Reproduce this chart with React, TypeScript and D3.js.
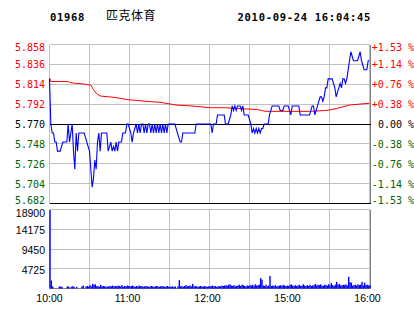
import React from 'react';
import * as d3 from 'd3';

const stockCode = '01968';
const stockName = '匹克体育';
const timestamp = '2010-09-24 16:04:45';
const prevClose = 5.77;

const priceTicks = [5.858, 5.836, 5.814, 5.792, 5.770, 5.748, 5.726, 5.704, 5.682];
const pctLabels = ['+1.53 %', '+1.14 %', '+0.76 %', '+0.38 %', '0.00 %', '-0.38 %', '-0.76 %', '-1.14 %', '-1.53 %'];
const volTicks = [18900, 14175, 9450, 4725, 0];
const timeTickMinutes = [0, 60, 120, 180, 240];
const timeTickLabels = ['10:00', '11:00', '12:00', '15:00', '16:00'];

// price per minute (0 = 10:00, 240 = 16:00, lunch break skipped)
const prices = [
  5.82, 5.77, 5.76, 5.76, 5.75, 5.75, 5.74, 5.74, 5.74, 5.745,
  5.75, 5.75, 5.75, 5.75, 5.77, 5.75, 5.76, 5.77, 5.74, 5.72,
  5.76, 5.74, 5.76, 5.76, 5.76, 5.76, 5.76, 5.755, 5.75, 5.745,
  5.74, 5.72, 5.70, 5.71, 5.73, 5.72, 5.75, 5.76, 5.74, 5.76,
  5.76, 5.76, 5.76, 5.76, 5.74, 5.745, 5.75, 5.74, 5.745, 5.74,
  5.75, 5.74, 5.75, 5.75, 5.75, 5.76, 5.76, 5.76, 5.77, 5.77,
  5.765, 5.76, 5.75, 5.76, 5.765, 5.77, 5.76, 5.77, 5.76, 5.77,
  5.77, 5.76, 5.77, 5.76, 5.77, 5.77, 5.76, 5.77, 5.76, 5.77,
  5.76, 5.77, 5.76, 5.77, 5.76, 5.77, 5.76, 5.77, 5.76, 5.77,
  5.77, 5.77, 5.77, 5.77, 5.77, 5.765, 5.76, 5.755, 5.75, 5.75,
  5.76, 5.76, 5.76, 5.76, 5.76, 5.76, 5.76, 5.76, 5.76, 5.76,
  5.77, 5.77, 5.77, 5.77, 5.77, 5.77, 5.77, 5.77, 5.77, 5.77,
  5.77, 5.77, 5.76, 5.77, 5.77, 5.77, 5.78, 5.78, 5.78, 5.78,
  5.78, 5.78, 5.77, 5.77, 5.77, 5.775, 5.78, 5.79, 5.785, 5.79,
  5.785, 5.79, 5.79, 5.79, 5.785, 5.79, 5.78, 5.78, 5.78, 5.78,
  5.775, 5.77, 5.76, 5.765, 5.76, 5.765, 5.76, 5.765, 5.76, 5.765,
  5.765, 5.77, 5.77, 5.77, 5.77, 5.78, 5.785, 5.79, 5.79, 5.79,
  5.79, 5.79, 5.79, 5.785, 5.785, 5.785, 5.79, 5.79, 5.79, 5.79,
  5.785, 5.78, 5.79, 5.79, 5.79, 5.79, 5.79, 5.79, 5.78, 5.78,
  5.78, 5.78, 5.78, 5.78, 5.78, 5.78, 5.785, 5.79, 5.79, 5.78,
  5.785, 5.79, 5.795, 5.80, 5.80, 5.795, 5.80, 5.81, 5.81, 5.82,
  5.82, 5.82, 5.82, 5.815, 5.81, 5.80, 5.805, 5.81, 5.815, 5.81,
  5.82, 5.82, 5.815, 5.82, 5.83, 5.84, 5.85, 5.845, 5.84, 5.84,
  5.84, 5.84, 5.845, 5.85, 5.84, 5.835, 5.83, 5.83, 5.83, 5.84,
  5.84,
];

// average price, read at selected minutes
const avgMinutes = [0, 1, 14, 15, 20, 27, 31, 33, 35, 38, 45, 51, 58, 66, 73, 83, 95, 106, 121, 132, 143, 156, 162, 195, 208, 215, 225, 240];
const avgPrices = [5.821, 5.817, 5.817, 5.816, 5.815, 5.814, 5.813, 5.808, 5.804, 5.801, 5.800, 5.799, 5.797, 5.796, 5.795, 5.794, 5.791, 5.790, 5.788, 5.788, 5.787, 5.786, 5.784, 5.784, 5.785, 5.787, 5.791, 5.793];

// volume per minute
const volumes = [
  18800, 1900, 500, 0, 0, 0, 0, 450, 450, 400,
  0, 0, 0, 500, 450, 0, 400, 500, 450, 0,
  400, 0, 0, 0, 500, 700, 0, 500, 600, 450,
  800, 500, 1100, 900, 1000, 500, 600, 400, 900, 500,
  600, 500, 500, 400, 500, 600, 500, 700, 500, 600,
  500, 700, 600, 500, 800, 400, 600, 500, 700, 600,
  500, 600, 700, 500, 400, 600, 500, 700, 500, 600,
  400, 500, 600, 500, 400, 500, 600, 500, 400, 500,
  600, 500, 400, 500, 600, 500, 400, 500, 600, 400,
  500, 400, 500, 400, 500, 0, 500, 2000, 500, 600,
  400, 600, 800, 500, 600, 700, 500, 1100, 500, 600,
  500, 400, 500, 600, 500, 400, 600, 500, 400, 500,
  600, 500, 700, 500, 600, 400, 500, 600, 500, 700,
  600, 700, 800, 600, 900, 1000, 700, 600, 800, 500,
  600, 700, 900, 600, 900, 800, 600, 500, 700, 600,
  800, 700, 900, 600, 1000, 700, 800, 900, 2500, 2100,
  700, 600, 900, 500, 700, 3000, 600, 700, 600, 800,
  500, 600, 700, 800, 600, 900, 700, 600, 700, 600,
  800, 1000, 700, 600, 800, 600, 700, 900, 600, 700,
  1000, 700, 600, 800, 600, 900, 600, 700, 800, 1100,
  700, 900, 800, 1000, 700, 600, 900, 800, 700, 1000,
  700, 1300, 800, 600, 900, 1600, 900, 1100, 700, 800,
  900, 800, 1000, 700, 2800, 1500, 1400, 700, 800, 900,
  700, 1000, 800, 900, 1600, 700, 1400, 800, 900, 700,
  800,
];

const W = 414;
const H = 314;
const mono = '"DejaVu Sans Mono", monospace';
const sans = '"Liberation Sans", Arial, sans-serif';
const GRID = '#c0c0c0';
const BORDER = '#808080';
const RED = '#ff0000';
const GREEN = '#006400';
const BLUE = '#0000ff';

export default function App() {
  const x = d3.scaleLinear().domain([0, 240]).range([49.5, 369.5]);
  const yP = d3.scaleLinear().domain([priceTicks[8], priceTicks[0]]).range([203.5, 44.5]);
  const yV = d3.scaleLinear().domain([0, 18900]).range([288.5, 209.5]);
  const snap = (v: number) => Math.floor(v) + 0.5;

  const priceLine = d3.line<number>().x((_, i) => x(i)).y((d) => yP(d))(prices) || '';
  const avgLine = d3.line<number>().x((_, i) => x(avgMinutes[i])).y((d) => yP(d))(avgPrices) || '';

  const gridXs = d3.range(0, 241, 30);

  const labelColor = (t: number) => (Math.abs(t - prevClose) < 1e-9 ? '#000' : t > prevClose ? RED : GREEN);

  return (
    <svg
      width={W}
      height={H}
      style={{ position: 'absolute', left: 0, top: 0, background: '#fff' }}
    >
      <rect x={0} y={0} width={W} height={H} fill="#fff" />
      {/* header */}
      <text x={50} y={21} fontFamily={mono} fontWeight="bold" fontSize={10.5} letterSpacing={0.7} fill="#000">
        {stockCode}
      </text>
      <text x={106} y={20} fontFamily='"Noto Sans CJK SC", sans-serif' fontSize={12} letterSpacing={0.5} fill="#000">
        {stockName}
      </text>
      <text x={371} y={21} textAnchor="end" fontFamily={mono} fontWeight="bold" fontSize={10.5} letterSpacing={0.7} fill="#000">
        {timestamp}
      </text>

      {/* grids */}
      <g shapeRendering="crispEdges">
        {priceTicks.map((t, i) => (
          <line key={'ph' + i} x1={x(0)} x2={370} y1={snap(yP(t))} y2={snap(yP(t))} stroke={GRID} />
        ))}
        {gridXs.map((m) => (
          <line key={'pv' + m} x1={x(m)} x2={x(m)} y1={snap(yP(priceTicks[0]))} y2={snap(yP(priceTicks[8]))} stroke={GRID} />
        ))}
        {volTicks.map((t) => (
          <line key={'vh' + t} x1={x(0)} x2={370} y1={snap(yV(t))} y2={snap(yV(t))} stroke={t === 0 ? BORDER : GRID} />
        ))}
        {gridXs.map((m) => (
          <line key={'vv' + m} x1={x(m)} x2={x(m)} y1={snap(yV(18900))} y2={snap(yV(0))} stroke={GRID} />
        ))}
        <line x1={370.5} x2={370.5} y1={snap(yP(priceTicks[0]))} y2={snap(yP(priceTicks[8]))} stroke={BORDER} />
        <line x1={370.5} x2={370.5} y1={snap(yV(18900))} y2={snap(yV(0))} stroke={BORDER} />
        <line x1={x(0)} x2={371} y1={snap(yP(prevClose))} y2={snap(yP(prevClose))} stroke="#000" />
        <line x1={x(0)} x2={371} y1={snap(yP(priceTicks[8]))} y2={snap(yP(priceTicks[8]))} stroke="#000" />
      </g>

      {/* average and price lines */}
      <path d={avgLine} fill="none" stroke={RED} strokeWidth={1} />
      <path d={priceLine} fill="none" stroke={BLUE} strokeWidth={1.1} />

      {/* volume bars */}
      <g>
        {volumes.map((v, i) =>
          v > 0 ? (
            <rect key={'vb' + i} x={x(i) - 0.2} width={1.4} y={yV(v)} height={yV(0) - yV(v)} fill={BLUE} />
          ) : null
        )}
      </g>

      {/* price labels left */}
      {priceTicks.map((t, i) => {
        const base = Math.min(Math.max(yP(t) + 4, 51), 203.5);
        return (
          <text key={'pl' + i} x={45} y={base} textAnchor="end" fontFamily={mono} fontSize={10} fill={labelColor(t)}>
            {t.toFixed(3)}
          </text>
        );
      })}
      {/* percent labels right */}
      {priceTicks.map((t, i) => {
        const base = Math.min(Math.max(yP(t) + 4, 51), 203.5);
        return (
          <text key={'pr' + i} x={414} y={base} textAnchor="end" fontFamily={mono} fontSize={10} fill={labelColor(t)}>
            {pctLabels[i]}
          </text>
        );
      })}
      {/* volume labels */}
      {volTicks.filter((t) => t > 0).map((t) => {
        const base = Math.max(yV(t) + 5, 217);
        return (
          <text key={'vl' + t} x={45} y={base} textAnchor="end" fontFamily={sans} fontSize={10.5} fill="#000">
            {t}
          </text>
        );
      })}
      {/* time labels */}
      {timeTickMinutes.map((m, i) => (
        <text key={'tl' + m} x={x(m) - (i === 0 ? 0 : 2)} y={302} textAnchor="middle" fontFamily={sans} fontSize={10.5} fill="#000">
          {timeTickLabels[i]}
        </text>
      ))}
    </svg>
  );
}
